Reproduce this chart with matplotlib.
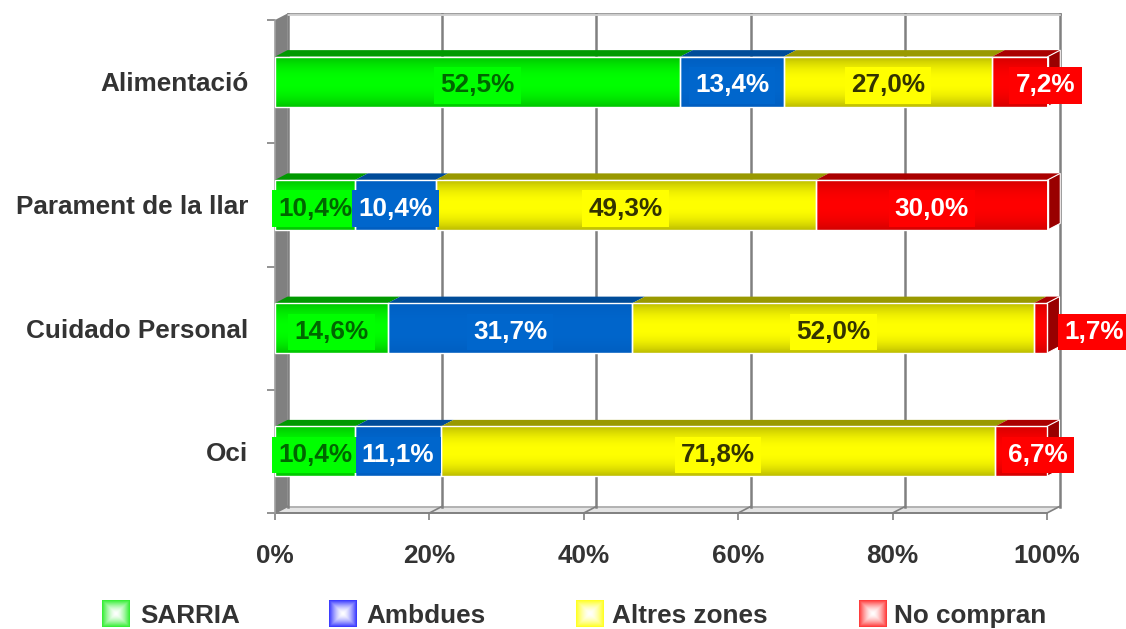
import numpy as np
import matplotlib
matplotlib.use("Agg")
import matplotlib.pyplot as plt
from matplotlib.patches import Polygon, Rectangle
from matplotlib.colors import to_rgb

# ---------------- data ----------------
categories = ["Alimentació", "Parament de la llar", "Cuidado Personal", "Oci"]
series_names = ["SARRIA", "Ambdues", "Altres zones", "No compran"]
sarria = [52.5, 10.4, 14.6, 10.4]
ambdues = [13.4, 10.4, 31.7, 11.1]
altres_zones = [27.0, 49.3, 52.0, 71.8]
no_compran = [7.2, 30.0, 1.7, 6.7]
x_ticks = [0, 20, 40, 60, 80, 100]
x_tick_labels = ["0%", "20%", "40%", "60%", "80%", "100%"]

series_values = [sarria, ambdues, altres_zones, no_compran]

# ---------------- style ----------------
face_center = ["#00FF00", "#0066CC", "#FFFF00", "#FF0000"]
face_edge = ["#00C400", "#005EC0", "#BDBD00", "#D40000"]
top_colors = ["#009900", "#004C99", "#999900", "#AA0000"]
side_color = "#990000"
label_text_colors = ["#006600", "#FFFFFF", "#333300", "#FFFFFF"]
label_box_colors = ["#00FF00", "#0066CC", "#FFFF00", "#FF0000"]
legend_colors = ["#33EE33", "#3838FF", "#FFFF22", "#FF3838"]
# horizontal nudges of data labels (in % units), per series then category
label_shift = [[0, 0, 0, 0], [0, 0, 0, 0], [0, 0, 0, 0], [3.3, 0, 6.9, 2.2]]

plt.rcParams['font.family'] = ['Liberation Sans', 'DejaVu Sans']
TEXT = '#333333'
FS = 18.8
GRID = '#808080'

W, H = 1126, 629
fig = plt.figure(figsize=(W / 100, H / 100), dpi=100)

x0px, x1px, ytop, ybot = 275, 1047, 20, 513
ax = fig.add_axes([x0px / W, 1 - ybot / H, (x1px - x0px) / W, (ybot - ytop) / H])
for s in ax.spines.values():
    s.set_visible(False)

px_x = 100 / (x1px - x0px)
px_y = 4 / (ybot - ytop)
DX = 12.5 * px_x
DY = 6.5 * px_y
BH = 50 * px_y

# floor
ax.add_patch(Polygon([[0, 0], [100, 0], [100 + DX, DY], [DX, DY]], closed=True,
                     facecolor='#E4E4E4', edgecolor='none', zorder=0.5, clip_on=False))
ax.plot([DX, 100 + DX], [DY, DY], color='#A8A8A8', lw=1.2, clip_on=False, zorder=1)
# back wall grid
for xv in x_ticks:
    ax.plot([xv + DX, xv + DX], [DY, 4 + DY], color=GRID, lw=1.8, clip_on=False, zorder=1)
    ax.plot([xv, xv + DX], [0, DY], color=GRID, lw=1.2, clip_on=False, zorder=1)
ax.plot([DX, 100 + DX], [4 + DY, 4 + DY], color=GRID, lw=1.8, clip_on=False, zorder=1)
ax.plot([DX, 100 + DX], [4 + DY - 2 * px_y, 4 + DY - 2 * px_y], color='#DDDDDD', lw=1.2,
        clip_on=False, zorder=1)
# left wall
ax.add_patch(Polygon([[0, 0], [DX, DY], [DX, 4 + DY], [0, 4]], closed=True,
                     facecolor='#808080', edgecolor='none', zorder=1.5, clip_on=False))
# axis lines
ax.plot([0, 100], [0, 0], color=GRID, lw=1.4, clip_on=False, zorder=2)
ax.plot([0, 0], [0, 4], color='#A0A0A0', lw=1.2, clip_on=False, zorder=2)

# bars
gy = np.linspace(0, 1, 64)
prof = 1 - np.abs(2 * gy - 1) ** 2.2
n_series = len(series_values)
for si, vals in enumerate(series_values):
    cc = np.array(to_rgb(face_center[si]))
    ce = np.array(to_rgb(face_edge[si]))
    grad = (ce[None, :] + (cc - ce)[None, :] * prof[:, None])[:, None, :]
    for ci, v in enumerate(vals):
        left = sum(series_values[k][ci] for k in range(si))
        yc = len(categories) - 0.5 - ci
        yb, yt = yc - BH / 2, yc + BH / 2
        ax.imshow(grad, extent=(left, left + v, yb, yt), origin='lower', aspect='auto',
                  interpolation='bilinear', zorder=3)
        ax.add_patch(Rectangle((left, yb), v, BH, fill=False, edgecolor='white', lw=1.0,
                               zorder=3.5, clip_on=False))
        ax.add_patch(Polygon([[left, yt], [left + v, yt], [left + v + DX, yt + DY],
                              [left + DX, yt + DY]], closed=True, facecolor=top_colors[si],
                             edgecolor='none', zorder=2.8, clip_on=False))
        if si == n_series - 1:
            ax.add_patch(Polygon([[left + v, yb], [left + v + DX, yb + DY],
                                  [left + v + DX, yt + DY], [left + v, yt]], closed=True,
                                 facecolor=side_color, edgecolor='white', lw=0.8,
                                 zorder=2.9, clip_on=False))
        txt = f"{v:.1f}".replace('.', ',') + '%'
        ax.text(left + v / 2 + label_shift[si][ci], yc - 1.2 * px_y, txt, ha='center',
                va='center_baseline', fontsize=FS, fontweight='bold',
                color=label_text_colors[si],
                bbox=dict(boxstyle='square,pad=0.24', fc=label_box_colors[si], ec='none'),
                zorder=6, clip_on=False)

ax.set_xlim(0, 100)
ax.set_ylim(0, 4)

ax.set_xticks(x_ticks)
ax.set_xticklabels(x_tick_labels, fontsize=FS, fontweight='bold', color=TEXT)
ax.tick_params(axis='x', length=5, width=1.2, color=GRID, pad=17)
ax.set_yticks([len(categories) - 0.5 - i for i in range(len(categories))])
ax.set_yticklabels(categories, fontsize=FS, fontweight='bold', color=TEXT)
for lab in ax.get_yticklabels():
    lab.set_va('center_baseline')
ax.set_yticks(list(range(len(categories) + 1)), minor=True)
ax.tick_params(axis='y', which='major', length=0, pad=19)
ax.tick_params(axis='y', which='minor', length=6, width=1.2, color=GRID)

# legend (manual)
leg_marker_x = [102, 329, 576, 859]
leg_text_x = [140, 366, 612, 894]
n = 40
u = np.linspace(-1, 1, n)
tt = np.maximum(np.abs(u)[:, None], np.abs(u)[None, :])
wgt = tt ** 1.6
for i, name in enumerate(series_names):
    col = np.array(to_rgb(legend_colors[i]))
    img = 1 + (col[None, None, :] - 1) * wgt[:, :, None]
    lax = fig.add_axes([leg_marker_x[i] / W, 1 - 627 / H, 28 / W, 27 / H])
    lax.imshow(img, aspect='auto', interpolation='bilinear')
    lax.axis('off')
    fig.text(leg_text_x[i] / W, 1 - 623 / H, name, fontsize=FS, fontweight='bold',
             color=TEXT, ha='left', va='baseline')

fig.savefig("out.png", dpi=100)
